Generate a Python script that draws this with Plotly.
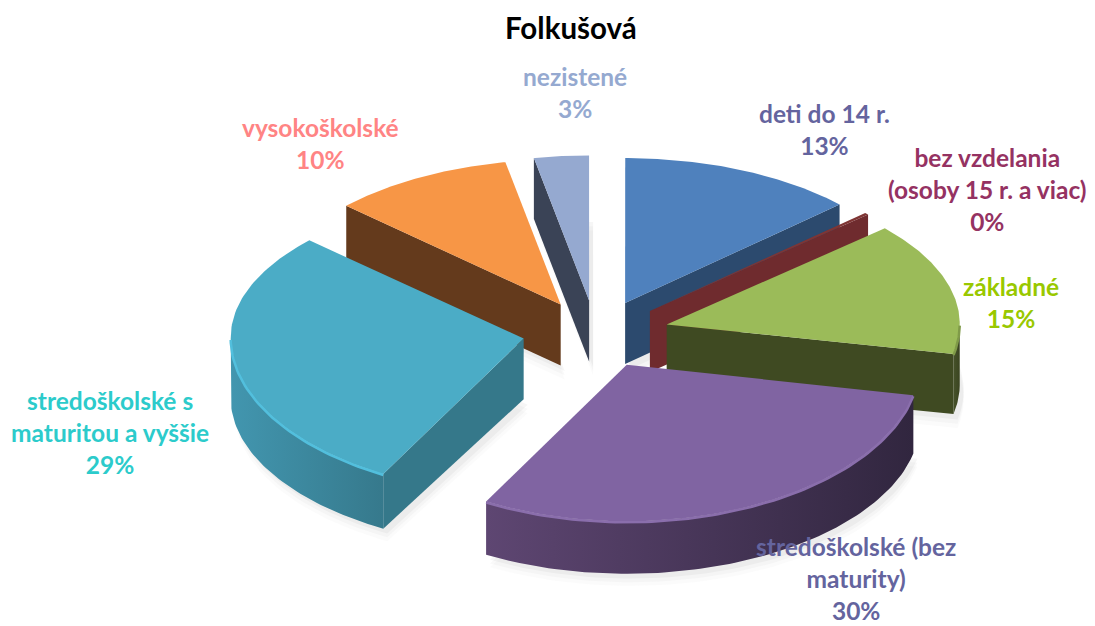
import numpy as np
import plotly.graph_objects as go

TITLE = "Folkušová"
categories = ["deti do 14 r.", "bez vzdelania<br>(osoby 15 r. a viac)", "základné",
              "stredoškolské (bez<br>maturity)", "stredoškolské s<br>maturitou a vyššie",
              "vysokoškolské", "nezistené"]
values = [13.0, 0.3, 14.9, 29.8, 29.0, 10.0, 3.0]
percent_labels = ["13%", "0%", "15%", "30%", "29%", "10%", "3%"]
top_colors = ["#4F81BD", "#7F3534", "#9BBB59", "#8064A2", "#4BACC6", "#F79646", "#95A9D0"]
wall_colors = ["#2C4A6E", "#6F2B2E", "#3F4A22", "#5E4672", "#35788A", "#643A1C", "#3A4356"]
outer_left = ["#2C4A6E", "#6F2B2E", "#46522A", "#5E4672", "#4296AF", "#643A1C", "#3A4356"]
outer_right = ["#2C4A6E", "#6F2B2E", "#3A4420", "#31263F", "#36798C", "#643A1C", "#3A4356"]
rim_colors = ["#5A8CC8", "#8A3F3E", "#7F9A48", "#8A6EAC", "#52BFDD", "#F9A35E", "#A5B8DC"]
label_colors = ["#64649E", "#953262", "#99C800", "#64649E", "#2CCBCB", "#FF8484", "#95A9D0"]
label_x = [824, 987, 1011, 856, 110, 320, 575]
label_y = [129, 189, 302, 578, 432, 143, 92]
paint_order = [0, 6, 5, 1, 2, 4, 3]

CX, CY, RX, KX = 596, 333, 293, -0.004
RY_BACK, K_BACK, RY_FRONT, K_FRONT = 141, -0.02, 151, 0.026
PULL_X, PULL_Y = 0.25, 0.23


def project(x, y, down=0.0):
    x, y = np.asarray(x, float), np.asarray(y, float)
    depth = 61 + 7 * np.minimum(y, 0)
    ry = np.where(y > 0, RY_BACK, RY_FRONT)
    k = np.where(y > 0, K_BACK, K_FRONT)
    return CX + RX * x * (1 - KX * y), CY - ry * y * (1 - k * y) + down * depth


def poly(xs, ys, color=None, gradient=None):
    kw = dict(x=list(xs) + [xs[0]], y=list(ys) + [ys[0]], mode="lines", line=dict(width=0),
              fill="toself", hoverinfo="skip", showlegend=False)
    if gradient:
        kw["fillgradient"] = dict(type="horizontal", colorscale=[[0, gradient[0]], [1, gradient[1]]])
    else:
        kw["fillcolor"] = color
    return go.Scatter(**kw)


fractions = np.array(values) / sum(values)
edges = np.concatenate([[0], np.cumsum(fractions)]) * 2 * np.pi
fig = go.Figure()

# soft contact shadows under the slices
for i in paint_order:
    a0, a1 = edges[i], edges[i + 1]
    mid = (a0 + a1) / 2
    ox, oy = PULL_X * np.sin(mid), PULL_Y * np.cos(mid)
    th = np.linspace(a0, a1, 60)
    xs = np.concatenate([[ox], ox + np.sin(th)])
    ys = np.concatenate([[oy], oy + np.cos(th)])
    for grow, alpha in [(1.2, 0.035), (1.13, 0.05), (1.06, 0.07)]:
        sx, sy = project(xs, ys, grow + 0.03)
        fig.add_trace(poly(sx + 4, sy, "rgba(130,130,130,%.3f)" % alpha))

for i in paint_order:
    a0, a1 = edges[i], edges[i + 1]
    mid = (a0 + a1) / 2
    ox, oy = PULL_X * np.sin(mid), PULL_Y * np.cos(mid)
    th = np.linspace(a0, a1, 90)
    arc_x, arc_y = ox + np.sin(th), oy + np.cos(th)

    # radial walls facing the viewer
    for a, visible in [(a0, np.sin(a0) < 0), (a1, np.sin(a1) > 0)]:
        if visible:
            wx, wy = np.array([ox, ox + np.sin(a)]), np.array([oy, oy + np.cos(a)])
            tx, ty = project(wx, wy)
            bx, by = project(wx, wy, 1)
            fig.add_trace(poly([tx[0], tx[1], bx[1], bx[0]], [ty[0], ty[1], by[1], by[0]], wall_colors[i]))

    # outer wall: only the front part of the rim
    front = np.cos(th) < 0
    if front.sum() > 1:
        tx, ty = project(arc_x[front], arc_y[front])
        bx, by = project(arc_x[front], arc_y[front], 1)
        fig.add_trace(poly(list(tx) + list(bx[::-1]), list(ty) + list(by[::-1]),
                           gradient=(outer_left[i], outer_right[i])))

    # top face
    sx, sy = project(np.concatenate([[ox], arc_x]), np.concatenate([[oy], arc_y]))
    fig.add_trace(poly(sx, sy, top_colors[i]))

    # bevel highlight on the rim
    if front.sum() > 1:
        tx, ty = project(arc_x[front], arc_y[front])
        fig.add_trace(go.Scatter(x=tx, y=ty + 1, mode="lines", hoverinfo="skip", showlegend=False,
                                 line=dict(color=rim_colors[i], width=2.5)))

FONT = "Lato, Carlito, sans-serif"
annotations = [dict(x=571, y=27, text="<b>%s</b>" % TITLE, showarrow=False, xref="x", yref="y",
                    font=dict(family=FONT, size=29.5, color="#000000"))]
for name, pct, c, x, y in zip(categories, percent_labels, label_colors, label_x, label_y):
    annotations.append(dict(x=x, y=y, text="<b>%s<br>%s</b>" % (name, pct), showarrow=False,
                            xref="x", yref="y", align="center",
                            font=dict(family=FONT, size=24.5, color=c)))

# The page body has an 8px margin, so the figure covers reference pixels 8..1095 and 8..626.
fig.update_layout(
    width=1087, height=618, margin=dict(l=0, r=0, t=0, b=0), autosize=False,
    paper_bgcolor="white", plot_bgcolor="white", showlegend=False,
    xaxis=dict(range=[8, 1095], visible=False, fixedrange=True),
    yaxis=dict(range=[626, 8], visible=False, fixedrange=True),
    annotations=annotations,
)
fig.write_html("out.html", config={"displayModeBar": False})
